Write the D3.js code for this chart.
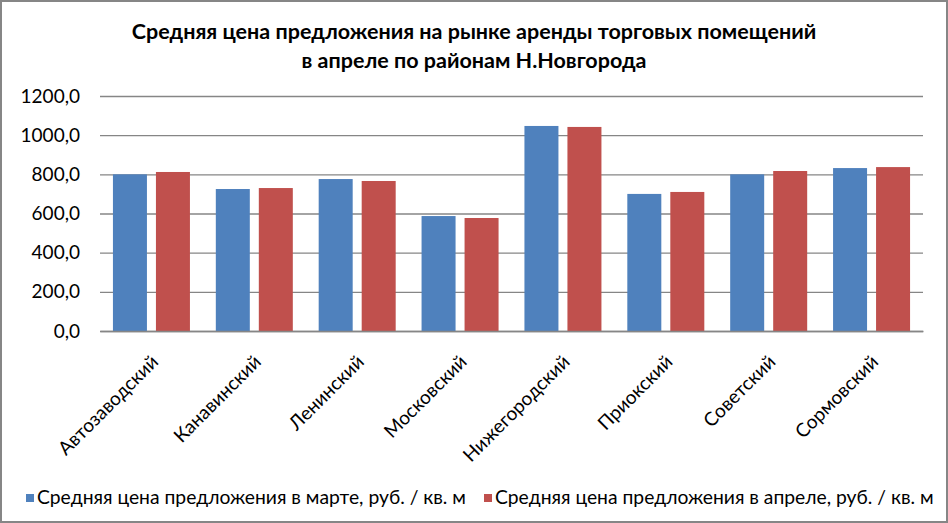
<!DOCTYPE html>
<html><head><meta charset="utf-8">
<script src="https://cdn.jsdelivr.net/npm/d3@7"></script>
<style>body{margin:0;background:#fff}svg{display:block}</style>
</head><body><svg id="c" width="948" height="523"></svg>
<script>
const categories = ["Автозаводский","Канавинский","Ленинский","Московский","Нижегородский","Приокский","Советский","Сормовский"];
const seriesNames = ["Средняя цена предложения в марте, руб. / кв. м","Средняя цена предложения в апреле, руб. / кв. м"];
const marchValues = [800, 725, 776, 587, 1047, 700, 800, 832];
const aprilValues = [812, 730, 766, 577, 1042, 710, 817, 837];
const yTicks = [0, 200, 400, 600, 800, 1000, 1200];
const titleLines = ["Средняя цена предложения на рынке аренды торговых помещений","в апреле по районам Н.Новгорода"];
const colors = ["#4F81BD", "#C0504D"];

const FONT = "Lato, 'Open Sans', sans-serif";
const svg = d3.select("#c").attr("font-family", FONT);
const W = 948, H = 523;
svg.append("rect").attr("x",1).attr("y",1).attr("width",W-2).attr("height",H-2).attr("fill","#fff").attr("stroke","#868686").attr("stroke-width",2);

const plot = {l:100, r:923, t:96, b:331};
const x = d3.scaleBand().domain(categories).range([plot.l, plot.r]).paddingInner(0).paddingOuter(0);
const y = d3.scaleLinear().domain([0,1200]).range([plot.b, plot.t]);

// title
svg.append("g").selectAll("text").data(titleLines).join("text")
  .attr("x", 474).attr("y",(d,i)=>39+i*29).attr("text-anchor","middle")
  .attr("font-weight","bold").attr("font-size",21.5).attr("fill","#000").text(d=>d);

// gridlines
const grid = d3.axisLeft(y).tickValues(yTicks).tickSize(-(plot.r-plot.l)).tickFormat("");
svg.append("g").attr("transform",`translate(${plot.l},0)`).call(grid)
  .call(g=>g.select(".domain").remove())
  .call(g=>g.selectAll("line").attr("stroke","#868686").attr("stroke-width",1.3));

// y labels
const yAxis = d3.axisLeft(y).tickValues(yTicks).tickSize(0).tickPadding(20).tickFormat(d=>d3.format(".1f")(d).replace(".",","));
svg.append("g").attr("transform",`translate(${plot.l},0)`).call(yAxis)
  .call(g=>g.select(".domain").remove())
  .call(g=>g.selectAll("text").attr("font-size",19).attr("fill","#000").attr("font-family",FONT));

// bars
const barW = 34, gap = 9;
const data = categories.map((c,i)=>({c, v:[marchValues[i], aprilValues[i]]}));
const gBars = svg.append("g");
data.forEach(d=>{
  const cx = x(d.c) + x.bandwidth()/2;
  d.v.forEach((v,s)=>{
    const bx = s===0 ? cx - gap/2 - barW : cx + gap/2;
    gBars.append("rect").attr("x",bx).attr("width",barW)
      .attr("y",y(v)).attr("height",y(0)-y(v)).attr("fill",colors[s]);
  });
});

// x axis
const xAxis = d3.axisBottom(x).tickSize(0).tickPadding(0);
svg.append("g").attr("transform",`translate(0,${plot.b})`).call(xAxis)
  .call(g=>g.select(".domain").attr("stroke","#868686").attr("stroke-width",1.3))
  .call(g=>g.selectAll(".tick text").attr("font-size",19).attr("fill","#000")
     .attr("font-family",FONT)
     .attr("text-anchor","end").attr("dy",0).attr("y",0)
     .attr("transform","translate(8,32) rotate(-45)"));

// legend
const leg = svg.append("g");
const legX = [26, 484];
seriesNames.forEach((n,i)=>{
  leg.append("rect").attr("x",legX[i]).attr("y",494).attr("width",8).attr("height",8).attr("fill",colors[i]);
  leg.append("text").attr("x",legX[i]+11).attr("y",504).attr("font-size",19.3)
    .attr("font-family",FONT).attr("fill","#000").text(n);
});
</script></body></html>
